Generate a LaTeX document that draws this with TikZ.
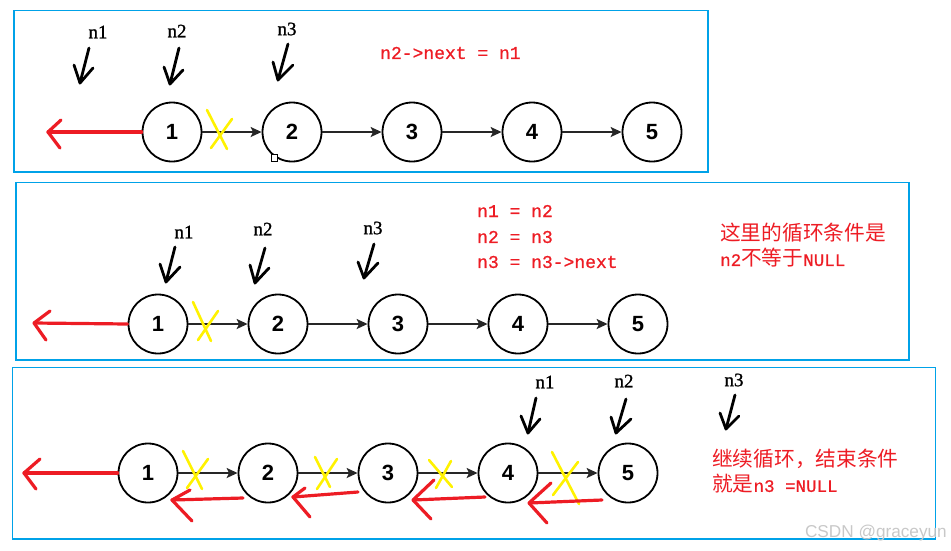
\documentclass[tikz,border=0pt]{standalone}
\usepackage{fontspec}
\setmainfont{Liberation Serif}
\newfontfamily\monof[FakeBold=0.9]{Liberation Mono}
\newfontfamily\serf[FakeBold=1.1]{Liberation Serif}
\newfontfamily\cjkf{Noto Sans CJK SC}
\newfontfamily\numf{Liberation Sans}
\usetikzlibrary{arrows.meta}
\definecolor{boxblue}{RGB}{0,162,232}
\definecolor{pred}{RGB}{237,28,36}
\definecolor{pyel}{RGB}{255,242,0}
\definecolor{wm}{RGB}{200,200,200}
\newcommand\mylat[1]{{\monof\fontsize{17.5}{17.5}\selectfont #1}}
\tikzset{
 lnode/.style={circle,draw=black,line width=1.8pt,minimum size=59pt,inner sep=0pt,outer sep=0.9pt,font=\numf\bfseries\fontsize{22}{22}\selectfont},
 link/.style={draw=black!85,line width=1.6pt,-{Stealth[length=11pt,width=10pt,inset=2.5pt]}},
 frame/.style={draw=boxblue,line width=1.3pt},
 redpen/.style={draw=pred,line width=3.2pt,line cap=round,line join=round},
 yelpen/.style={draw=pyel,line width=2.6pt,line cap=round},
 blkpen/.style={draw=black,line width=2.8pt,line cap=round,line join=round},
 plabel/.style={font=\serf\fontsize{19}{19}\selectfont,inner sep=0pt},
 code/.style={font=\monof\fontsize{18}{18}\selectfont,text=pred,inner sep=0pt,anchor=west},
 note/.style={font=\cjkf\fontsize{20.7}{24}\selectfont,text=pred,inner sep=0pt,anchor=west},
}
\begin{document}
\begin{tikzpicture}[x=1pt,y=-1pt]
\useasboundingbox (0,0) rectangle (951,550);

% ---------- frames ----------
\draw[frame] (14,10.7) rectangle (708,172);
\draw[frame] (16,182.3) rectangle (909,360);
\draw[frame] (12.3,367.3) rectangle (935.5,539);

% ---------- panel 1 ----------
\foreach \i/\x in {1/172,2/292,3/412,4/532,5/652}
  \node[lnode] (a\i) at (\x,132) {\i};
\foreach \i/\j in {1/2,2/3,3/4,4/5}
  \draw[link] (a\i) -- (a\j);
\draw[yelpen] (207,110) -- (227,149);
\draw[yelpen] (232,119) -- (211,148);
\coordinate (at) at (48,132);
\draw[redpen] (a1.west) -- (at);
\draw[redpen] (61,120) -- (at) -- (60,148);
\draw[fill=white,draw=black,line width=0.8pt] (271,154) rectangle (277,161);

\node[plabel] (a_n1) at (98,32) {n1};
\node[plabel] (a_n2) at (177,31) {n2};
\node[plabel] (a_n3) at (287,29) {n3};
\draw[blkpen] (89,48) -- (80,83);
\draw[blkpen] (74,65) -- (80,83) -- (93,68);
\draw[blkpen] (179,48) -- (170,84);
\draw[blkpen] (164,67) -- (170,84) -- (183,70);
\draw[blkpen] (288,44) -- (278,80);
\draw[blkpen] (273,62) -- (278,80) -- (293,65);
\node[code] (a_code) at (380,53) {n2->next = n1};

% ---------- panel 2 ----------
\foreach \i/\x in {1/158,2/278,3/398,4/518,5/638}
  \node[lnode] (b\i) at (\x,324) {\i};
\foreach \i/\j in {1/2,2/3,3/4,4/5}
  \draw[link] (b\i) -- (b\j);
\draw[yelpen] (193,302) -- (211,341);
\draw[yelpen] (218,311) -- (198,340);
\coordinate (bt) at (34,323);
\draw[redpen] (b1.west) -- (bt);
\draw[redpen] (50,311) -- (bt) -- (46,340);

\node[plabel] (b_n1) at (184,232) {n1};
\node[plabel] (b_n2) at (263,229) {n2};
\node[plabel] (b_n3) at (373,228) {n3};
\draw[blkpen] (175,247) -- (166,282);
\draw[blkpen] (160,264) -- (166,282) -- (180,267);
\draw[blkpen] (265,248) -- (255,283);
\draw[blkpen] (250,265) -- (255,283) -- (269,268);
\draw[blkpen] (374,244) -- (364,278);
\draw[blkpen] (358,262) -- (364,278) -- (378,263);
\node[code] (b_c1) at (477,211) {n1 = n2};
\node[code] (b_c2) at (477,237) {n2 = n3};
\node[code] (b_c3) at (477,262) {n3 = n3->next};
\node[note] (b_t1) at (720,233) {这里的循环条件是};
\node[note] (b_t2) at (720,258) {\mylat{n2}不等于\mylat{NULL}};

% ---------- panel 3 ----------
\foreach \i/\x in {1/148,2/268,3/388,4/508,5/628}
  \node[lnode] (c\i) at (\x,473) {\i};
\foreach \i/\j in {1/2,2/3,3/4,4/5}
  \draw[link] (c\i) -- (c\j);
\draw[yelpen] (183,451) -- (202,489);
\draw[yelpen] (208,459) -- (187,488);
\draw[yelpen] (315,457) -- (330,487);
\draw[yelpen] (337,459) -- (317,489);
\draw[yelpen] (429,460) -- (452,487);
\draw[yelpen] (451,461) -- (436,488);
\draw[yelpen] (552,452) -- (579,504);
\draw[yelpen] (578,462) -- (553,495);

\coordinate (ct) at (24,473);
\draw[redpen] (c1.west) -- (ct);
\draw[redpen] (40,459) -- (ct) -- (36,489);
\coordinate (r1s) at (243,498); \coordinate (r1t) at (172,500);
\draw[redpen] (r1s) -- (r1t);
\draw[redpen] (190,490) -- (r1t) -- (192,521);
\coordinate (r2s) at (358,492); \coordinate (r2t) at (293,497);
\draw[redpen] (r2s) -- (r2t);
\draw[redpen] (305,488) -- (r2t) -- (310,517);
\coordinate (r3s) at (485,497); \coordinate (r3t) at (413,500);
\draw[redpen] (r3s) -- (r3t);
\draw[redpen] (434,480) -- (r3t) -- (431,519);
\coordinate (r4s) at (602,500); \coordinate (r4t) at (529,503);
\draw[redpen] (r4s) -- (r4t);
\draw[redpen] (551,483) -- (r4t) -- (547,523);

\node[plabel] (c_n1) at (545,382) {n1};
\node[plabel] (c_n2) at (624,381) {n2};
\node[plabel] (c_n3) at (734,380) {n3};
\draw[blkpen] (536,398) -- (528,433);
\draw[blkpen] (521,416) -- (528,433) -- (540,419);
\draw[blkpen] (626,399) -- (616,433);
\draw[blkpen] (611,417) -- (616,433) -- (631,419);
\draw[blkpen] (735,395) -- (726,429);
\draw[blkpen] (720,413) -- (726,429) -- (739,416);
\node[note] (c_t1) at (712,459) {继续循环，结束条件};
\node[note] (c_t2) at (712,484) {就是\mylat{n3 =NULL}};

\node[font=\numf\fontsize{17.2}{17.2}\selectfont,text=wm,inner sep=0pt,anchor=east] (wmk) at (947,533) {CSDN @graceyun};
\end{tikzpicture}
\end{document}
